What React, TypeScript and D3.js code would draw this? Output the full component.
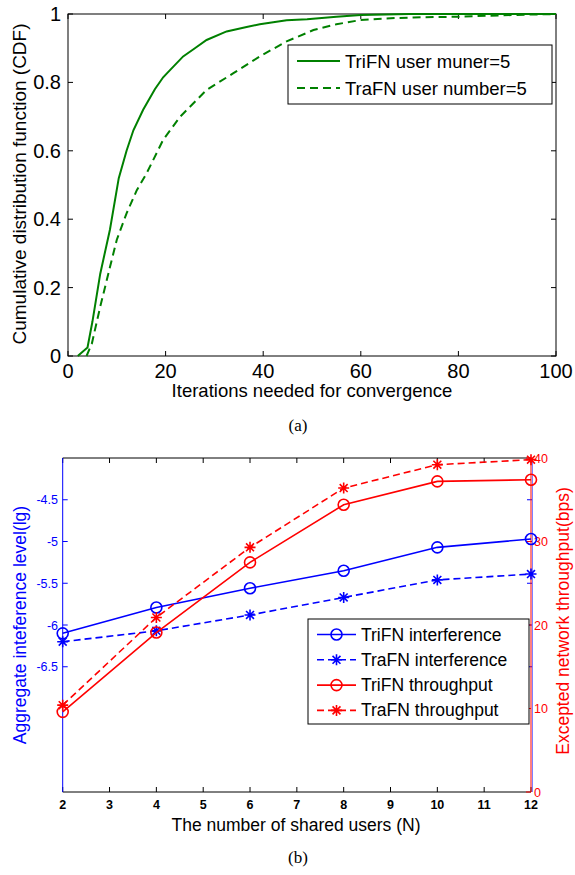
import React, { useRef, useEffect } from 'react';
import * as d3 from 'd3';

// (a) CDF of iterations needed for convergence
const cdfTicksX = [0, 20, 40, 60, 80, 100];
const cdfTicksY = [0, 0.2, 0.4, 0.6, 0.8, 1];
const triIter = [2, 4, 5, 6.6, 8.6, 10.4, 12, 13.4, 15.4, 17.8, 19.5, 20.9, 23.6, 26, 28.4, 32.5, 36.6, 39.3, 44.8, 49, 55, 60, 70, 80, 100];
const triCdf = [0, 0.025, 0.1, 0.24, 0.37, 0.52, 0.6, 0.66, 0.72, 0.78, 0.815, 0.836, 0.876, 0.9, 0.924, 0.949, 0.962, 0.97, 0.982, 0.985, 0.992, 0.997, 1, 1, 1];
const traIter = [3.8, 4.9, 6.6, 8.6, 10, 12, 14.1, 16.1, 19.5, 23, 28.4, 33.9, 39.3, 44.8, 50.3, 55, 59.8, 65, 70.8, 79.6, 91, 100];
const traCdf = [0, 0.037, 0.144, 0.26, 0.34, 0.417, 0.485, 0.534, 0.632, 0.7, 0.778, 0.827, 0.876, 0.92, 0.953, 0.97, 0.982, 0.987, 0.99, 0.992, 0.997, 1];
const cdfLegend = ['TriFN user muner=5', 'TraFN user number=5'];

// (b) interference and throughput vs shared users
const users = [2, 4, 6, 8, 10, 12];
const userTicks = [2, 3, 4, 5, 6, 7, 8, 9, 10, 11, 12];
const triInterf = [-6.1, -5.79, -5.56, -5.35, -5.07, -4.97];
const traInterf = [-6.2, -6.07, -5.88, -5.67, -5.46, -5.39];
const triThru = [9.6, 19.1, 27.5, 34.4, 37.2, 37.4];
const traThru = [10.4, 20.9, 29.3, 36.4, 39.2, 39.8];
const interfTicks = [-6.5, -6, -5.5, -5, -4.5];
const thruTicks = [0, 10, 20, 30, 40];
const bLegend = ['TriFN interference', 'TraFN interference', 'TriFN throughput', 'TraFN throughput'];

const SANS = '"Liberation Sans", Arial, sans-serif';
const SERIF = '"Liberation Serif", "Times New Roman", serif';

const starPath = (x: number, y: number, r: number) => {
  const d = r * 0.72;
  return `M${x - r},${y}L${x + r},${y}M${x},${y - r}L${x},${y + r}` +
    `M${x - d},${y - d}L${x + d},${y + d}M${x - d},${y + d}L${x + d},${y - d}`;
};

const App = () => {
  const svgRef = useRef<SVGSVGElement | null>(null);

  useEffect(() => {
    if (!svgRef.current) return;
    const svg = d3.select(svgRef.current);
    svg.selectAll('*').remove();

    // ---------- chart (a) ----------
    const ax = d3.scaleLinear().domain([0, 100]).range([68, 556]);
    const ay = d3.scaleLinear().domain([0, 1]).range([356, 14]);
    const green = '#008000';

    const ga = svg.append('g');
    ga.append('rect')
      .attr('x', 68).attr('y', 14).attr('width', 488).attr('height', 342)
      .attr('fill', 'white').attr('stroke', 'black').attr('stroke-width', 1);

    cdfTicksX.forEach(t => {
      ga.append('line').attr('x1', ax(t)).attr('x2', ax(t)).attr('y1', 356).attr('y2', 351).attr('stroke', 'black');
      ga.append('line').attr('x1', ax(t)).attr('x2', ax(t)).attr('y1', 14).attr('y2', 19).attr('stroke', 'black');
      ga.append('text').attr('x', ax(t)).attr('y', 378)
        .attr('text-anchor', 'middle').attr('font-family', SANS).attr('font-size', 20)
        .text(t);
    });
    cdfTicksY.forEach(t => {
      ga.append('line').attr('x1', 68).attr('x2', 73).attr('y1', ay(t)).attr('y2', ay(t)).attr('stroke', 'black');
      ga.append('line').attr('x1', 556).attr('x2', 551).attr('y1', ay(t)).attr('y2', ay(t)).attr('stroke', 'black');
      ga.append('text').attr('x', 61).attr('y', ay(t) + 7)
        .attr('text-anchor', 'end').attr('font-family', SANS).attr('font-size', 20)
        .text(t);
    });

    const lineA = d3.line<[number, number]>().x(d => ax(d[0])).y(d => ay(d[1]));
    ga.append('path')
      .attr('d', lineA(triIter.map((v, i) => [v, triCdf[i]] as [number, number])))
      .attr('fill', 'none').attr('stroke', green).attr('stroke-width', 2);
    ga.append('path')
      .attr('d', lineA(traIter.map((v, i) => [v, traCdf[i]] as [number, number])))
      .attr('fill', 'none').attr('stroke', green).attr('stroke-width', 2).attr('stroke-dasharray', '8,5');

    ga.append('text').attr('x', 312).attr('y', 397)
      .attr('text-anchor', 'middle').attr('font-family', SANS).attr('font-size', 18.5)
      .text('Iterations needed for convergence');
    ga.append('text')
      .attr('transform', `translate(26, ${184}) rotate(-90)`)
      .attr('text-anchor', 'middle').attr('font-family', SANS).attr('font-size', 19)
      .text('Cumulative distribution function (CDF)');

    // legend (a)
    ga.append('rect').attr('x', 288).attr('y', 45).attr('width', 264).attr('height', 59)
      .attr('fill', 'white').attr('stroke', 'black').attr('stroke-width', 1);
    cdfLegend.forEach((label, i) => {
      const y = 61 + i * 27;
      ga.append('line').attr('x1', 297).attr('x2', 340).attr('y1', y).attr('y2', y)
        .attr('stroke', green).attr('stroke-width', 2)
        .attr('stroke-dasharray', i === 1 ? '8,5' : null);
      ga.append('text').attr('x', 345).attr('y', y + 7)
        .attr('font-family', SANS).attr('font-size', 18.5).text(label);
    });

    svg.append('text').attr('x', 298).attr('y', 431)
      .attr('text-anchor', 'middle').attr('font-family', SERIF).attr('font-size', 17)
      .text('(a)');

    // ---------- chart (b) ----------
    const bx = d3.scaleLinear().domain([2, 12]).range([62.7, 531]);
    const byL = d3.scaleLinear().domain([-8, -4]).range([792, 458]);
    const byR = d3.scaleLinear().domain([0, 40]).range([792, 458]);
    const blue = '#0000ff';
    const red = '#ff0000';

    const gb = svg.append('g');
    gb.append('line').attr('x1', 62.7).attr('x2', 531).attr('y1', 458).attr('y2', 458).attr('stroke', 'black');
    gb.append('line').attr('x1', 62.7).attr('x2', 531).attr('y1', 792).attr('y2', 792).attr('stroke', 'black');

    userTicks.forEach(t => {
      gb.append('line').attr('x1', bx(t)).attr('x2', bx(t)).attr('y1', 792).attr('y2', 787).attr('stroke', 'black');
      gb.append('line').attr('x1', bx(t)).attr('x2', bx(t)).attr('y1', 458).attr('y2', 463).attr('stroke', 'black');
      gb.append('text').attr('x', bx(t)).attr('y', 809)
        .attr('text-anchor', 'middle').attr('font-family', SANS).attr('font-size', 12.5).attr('font-weight', 'bold')
        .text(t);
    });

    // left (blue) axis
    gb.append('line').attr('x1', 62.7).attr('x2', 62.7).attr('y1', 458).attr('y2', 792).attr('stroke', blue);
    gb.append('line').attr('x1', 532.5).attr('x2', 532.5).attr('y1', 458).attr('y2', 792).attr('stroke', blue).attr('stroke-opacity', 0.5);
    interfTicks.forEach(t => {
      gb.append('line').attr('x1', 62.7).attr('x2', 67.7).attr('y1', byL(t)).attr('y2', byL(t)).attr('stroke', blue);
      gb.append('line').attr('x1', 532).attr('x2', 527).attr('y1', byL(t)).attr('y2', byL(t)).attr('stroke', blue);
      gb.append('text').attr('x', 58).attr('y', byL(t) + 4.5)
        .attr('text-anchor', 'end').attr('font-family', SANS).attr('font-size', 12.5).attr('fill', blue)
        .text(t);
    });

    // right (red) axis
    gb.append('line').attr('x1', 531).attr('x2', 531).attr('y1', 458).attr('y2', 792).attr('stroke', red);
    thruTicks.forEach(t => {
      gb.append('line').attr('x1', 531).attr('x2', 526).attr('y1', byR(t)).attr('y2', byR(t)).attr('stroke', red);
      gb.append('text').attr('x', 534).attr('y', byR(t) + 4.5)
        .attr('font-family', SANS).attr('font-size', 12.5).attr('fill', red)
        .text(t);
    });

    const series = [
      { vals: triInterf, scale: byL, color: blue, dash: null, marker: 'o' },
      { vals: traInterf, scale: byL, color: blue, dash: '7,4', marker: '*' },
      { vals: triThru, scale: byR, color: red, dash: null, marker: 'o' },
      { vals: traThru, scale: byR, color: red, dash: '7,4', marker: '*' },
    ];

    series.forEach(s => {
      const line = d3.line<number>().x((_, i) => bx(users[i])).y(d => s.scale(d));
      gb.append('path').attr('d', line(s.vals))
        .attr('fill', 'none').attr('stroke', s.color).attr('stroke-width', 1.6)
        .attr('stroke-dasharray', s.dash);
      s.vals.forEach((v, i) => {
        const cx = bx(users[i]);
        const cy = s.scale(v);
        if (s.marker === 'o') {
          gb.append('circle').attr('cx', cx).attr('cy', cy).attr('r', 5.5)
            .attr('fill', 'none').attr('stroke', s.color).attr('stroke-width', 1.6);
        } else {
          gb.append('path').attr('d', starPath(cx, cy, 5.5))
            .attr('stroke', s.color).attr('stroke-width', 1.6);
        }
      });
    });

    gb.append('text').attr('x', 296).attr('y', 831)
      .attr('text-anchor', 'middle').attr('font-family', SANS).attr('font-size', 17.5)
      .text('The number of shared users (N)');
    gb.append('text')
      .attr('transform', `translate(26, ${625}) rotate(-90)`)
      .attr('text-anchor', 'middle').attr('font-family', SANS).attr('font-size', 17.5).attr('fill', blue)
      .text('Aggregate inteference level(lg)');
    gb.append('text')
      .attr('transform', `translate(569, ${621}) rotate(-90)`)
      .attr('text-anchor', 'middle').attr('font-family', SANS).attr('font-size', 17.5).attr('fill', red)
      .text('Excepted network throughput(bps)');

    // legend (b)
    gb.append('rect').attr('x', 308).attr('y', 619).attr('width', 221).attr('height', 105)
      .attr('fill', 'white').attr('stroke', 'black').attr('stroke-width', 1);
    bLegend.forEach((label, i) => {
      const s = series[i];
      const y = 634.5 + i * 25.3;
      gb.append('line').attr('x1', 317).attr('x2', 356).attr('y1', y).attr('y2', y)
        .attr('stroke', s.color).attr('stroke-width', 1.6).attr('stroke-dasharray', s.dash);
      if (s.marker === 'o') {
        gb.append('circle').attr('cx', 336.5).attr('cy', y).attr('r', 5.5)
          .attr('fill', 'none').attr('stroke', s.color).attr('stroke-width', 1.6);
      } else {
        gb.append('path').attr('d', starPath(336.5, y, 5.5)).attr('stroke', s.color).attr('stroke-width', 1.6);
      }
      gb.append('text').attr('x', 361).attr('y', y + 6)
        .attr('font-family', SANS).attr('font-size', 17.5).text(label);
    });

    svg.append('text').attr('x', 298).attr('y', 863)
      .attr('text-anchor', 'middle').attr('font-family', SERIF).attr('font-size', 17)
      .text('(b)');
  }, []);

  return (
    <svg ref={svgRef} width={575} height={875}
      style={{ position: 'absolute', left: 0, top: 0, background: 'white' }} />
  );
};

export default App;
